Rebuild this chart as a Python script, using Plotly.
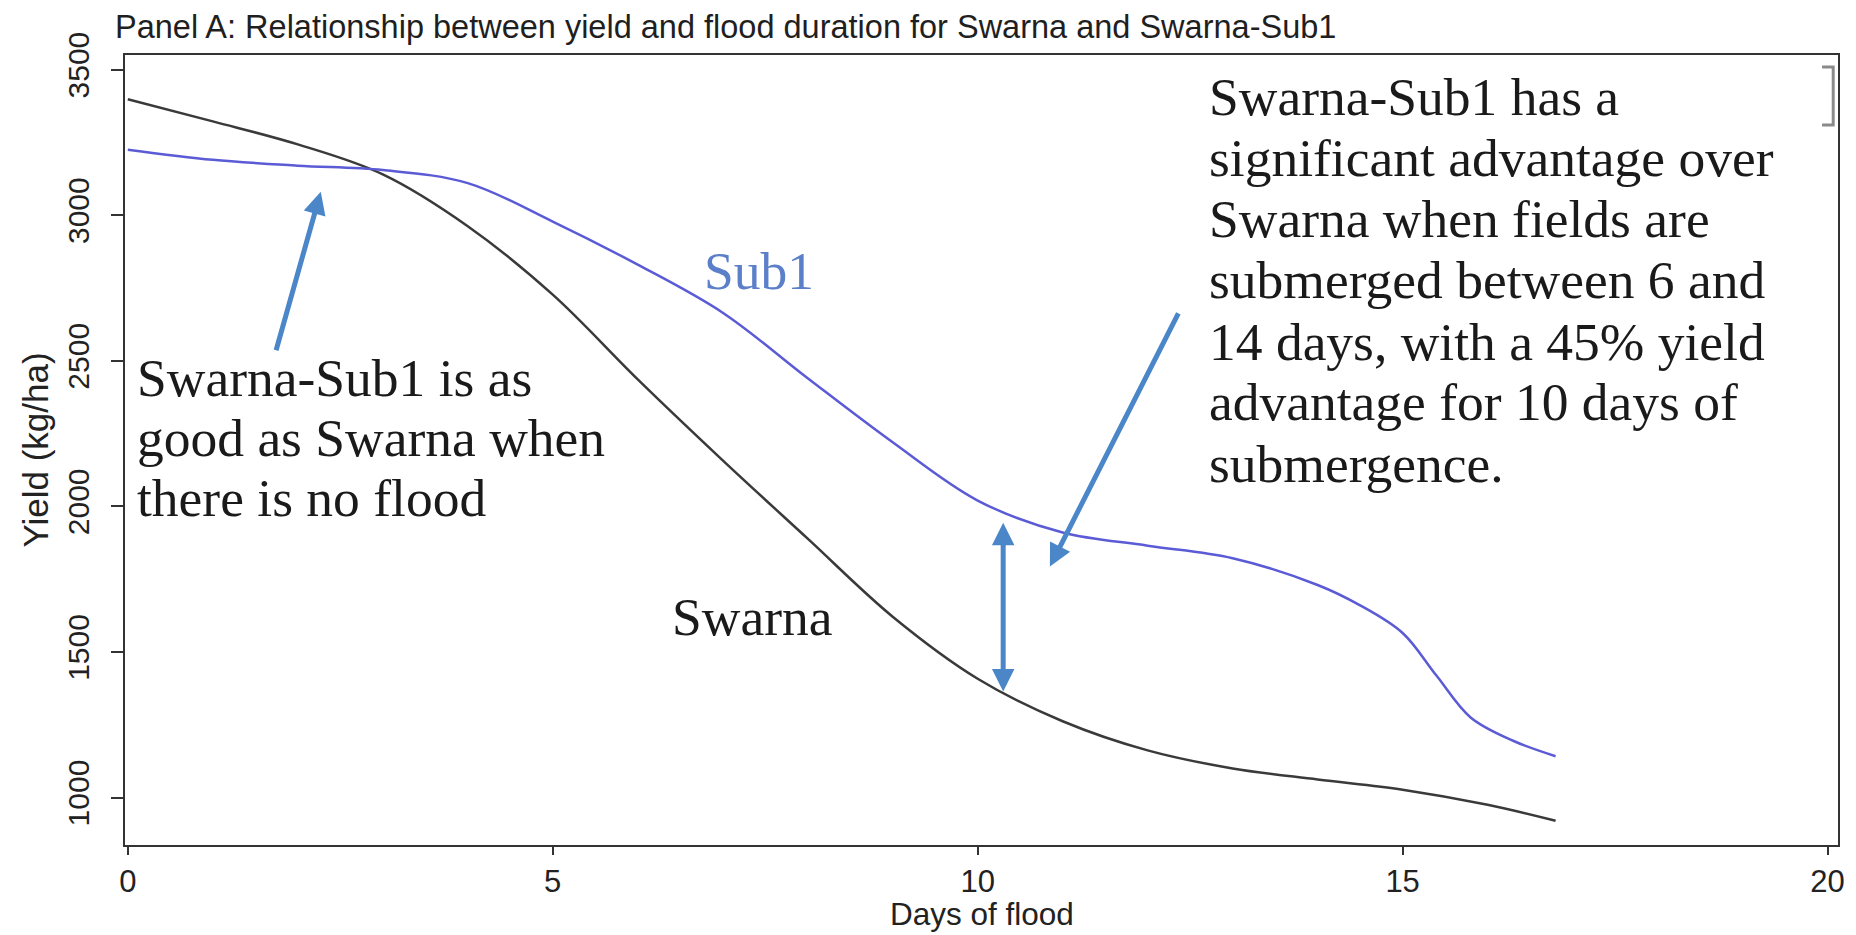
import plotly.graph_objects as go

# ---- data ----
swarna_days = [0, 1, 2, 3, 4, 5, 6, 7, 8, 9, 10, 11, 12, 13, 14, 15, 16, 16.8]
swarna_yield = [3398, 3322, 3243, 3140, 2962, 2727, 2436, 2158, 1889, 1621, 1408,
                1262, 1162, 1100, 1062, 1027, 975, 920]

sub1_days = [0, 1, 2, 3, 4, 5, 6, 7, 8, 9, 10, 11, 12, 13, 14, 14.5, 15, 15.4,
             15.8, 16.3, 16.8]
sub1_yield = [3225, 3190, 3170, 3155, 3110, 2978, 2830, 2665, 2440, 2220, 2020,
              1910, 1865, 1822, 1730, 1660, 1565, 1418, 1275, 1195, 1142]

x_ticks = [0, 5, 10, 15, 20]
y_ticks = [1000, 1500, 2000, 2500, 3000, 3500]

title_text = "Panel A: Relationship between yield and flood duration for Swarna and Swarna-Sub1"
x_title = "Days of flood"
y_title = "Yield (kg/ha)"
left_lines = ["Swarna-Sub1 is as", "good as Swarna when", "there is no flood"]
right_lines = ["Swarna-Sub1 has a", "significant advantage over", "Swarna when fields are",
               "submerged between 6 and", "14 days, with a 45% yield",
               "advantage for 10 days of", "submergence."]

# ---- styles ----
SANS = "Liberation Sans, Arial, Helvetica, sans-serif"
SERIF = "Liberation Serif, Times New Roman, serif"
ARROW_COLOR = "#4a86c8"
TXT = "#1a1a1a"
AX = "#222222"
NOTE_SIZE = 53.5

fig = go.Figure()
fig.add_trace(go.Scatter(x=swarna_days, y=swarna_yield, mode="lines", name="Swarna",
                         line=dict(color="#3a3a3a", width=2.5, shape="spline", smoothing=1.0),
                         showlegend=False))
fig.add_trace(go.Scatter(x=sub1_days, y=sub1_yield, mode="lines", name="Swarna-Sub1",
                         line=dict(color="#5b5bd6", width=2.5, shape="spline", smoothing=1.0),
                         showlegend=False))

annotations = []
# text blocks
left_y = [2442, 2235, 2028]
for t, yy in zip(left_lines, left_y):
    annotations.append(dict(x=0.08, y=yy, xref="x", yref="y", text=t, showarrow=False,
                            xanchor="left", yanchor="middle",
                            font=dict(family=SERIF, size=NOTE_SIZE, color=TXT)))
right_y = [3405, 3198, 2987, 2776, 2564, 2357, 2146]
for t, yy in zip(right_lines, right_y):
    annotations.append(dict(x=12.70, y=yy, xref="x", yref="y", text=t, showarrow=False,
                            xanchor="left", yanchor="middle",
                            font=dict(family=SERIF, size=NOTE_SIZE, color=TXT)))
annotations.append(dict(x=7.43, y=2809, xref="x", yref="y", text="Sub1", showarrow=False,
                        xanchor="center", yanchor="middle",
                        font=dict(family=SERIF, size=NOTE_SIZE, color="#5b7fc9")))
annotations.append(dict(x=7.35, y=1621, xref="x", yref="y", text="Swarna", showarrow=False,
                        xanchor="center", yanchor="middle",
                        font=dict(family=SERIF, size=NOTE_SIZE, color=TXT)))

# x-axis title, placed just under the tick labels
annotations.append(dict(x=0.5, y=-0.0873, xref="paper", yref="paper", text=x_title,
                        showarrow=False, xanchor="center", yanchor="middle",
                        font=dict(family=SANS, size=31.5, color=AX)))

# arrows
annotations.append(dict(x=2.27, y=3080, ax=1.74, ay=2531, xref="x", yref="y",
                        axref="x", ayref="y", text="", showarrow=True,
                        arrowhead=2, arrowsize=0.9, arrowwidth=5, arrowcolor=ARROW_COLOR))
annotations.append(dict(x=10.85, y=1793, ax=12.37, ay=2668, xref="x", yref="y",
                        axref="x", ayref="y", text="", showarrow=True,
                        arrowhead=2, arrowsize=0.9, arrowwidth=5, arrowcolor=ARROW_COLOR))
annotations.append(dict(x=10.3, y=1944, ax=10.3, ay=1359, xref="x", yref="y",
                        axref="x", ayref="y", text="", showarrow=True,
                        arrowhead=2, startarrowhead=2, arrowside="end+start",
                        arrowsize=0.9, startarrowsize=0.9, arrowwidth=5,
                        arrowcolor=ARROW_COLOR))

# the page body adds an 8px margin, so the figure is sized to fit inside the window
fig.update_layout(
    width=1848, height=927,
    margin=dict(l=117, r=11, t=47, b=90),
    paper_bgcolor="white", plot_bgcolor="white",
    title=dict(text=title_text, x=107 / 1848, xanchor="left", xref="container",
               y=1 - 19 / 927, yanchor="middle", yref="container",
               font=dict(family=SANS, size=32.5, color="#1f1f1f")),
    annotations=annotations,
    shapes=[dict(type="path", xref="paper", yref="paper",
                 path="M 0.9907,0.9848 L 0.9972,0.9848 L 0.9972,0.9113 L 0.9907,0.9113",
                 line=dict(color="#8a8a8a", width=3))],
    xaxis=dict(range=[-0.033, 20.123], tickvals=x_ticks, ticks="outside", ticklen=8,
               tickwidth=1.5, tickcolor="#333", showline=True, linecolor="#333",
               linewidth=2, mirror=True, showgrid=False, zeroline=False,
               tickfont=dict(family=SANS, size=31, color=AX)),
    yaxis=dict(range=[837, 3550], tickvals=y_ticks, ticks="outside", ticklen=12,
               tickwidth=1.5, tickcolor="#333", showline=True, linecolor="#333",
               linewidth=2, mirror=True, showgrid=False, zeroline=False,
               tickangle=-90, ticklabelstandoff=10,
               tickfont=dict(family=SANS, size=30, color=AX),
               title=dict(text=y_title, standoff=3,
                          font=dict(family=SANS, size=35, color=AX))),
)

fig.write_html("out.html")
